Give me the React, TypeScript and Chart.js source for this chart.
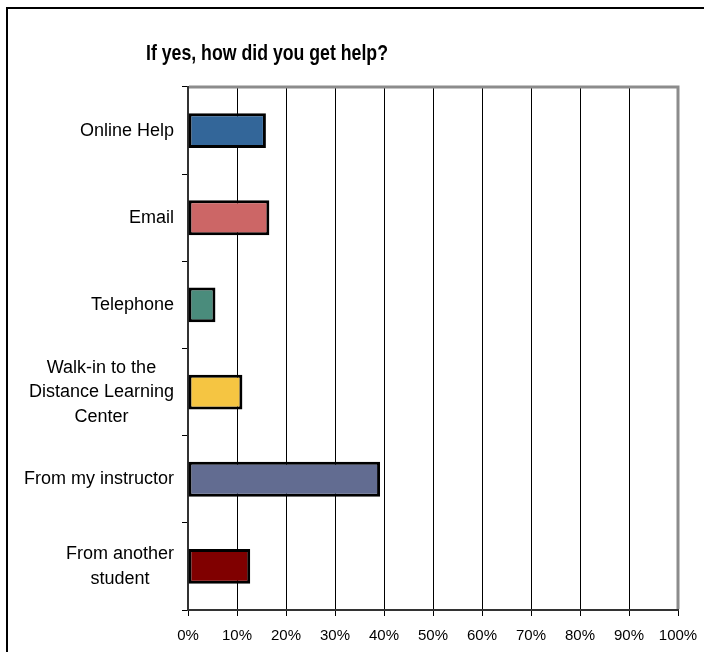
import { useEffect, useRef } from "react";
import { Chart, registerables } from "chart.js";

Chart.register(...registerables);

const TITLE = "If yes, how did you get help?";
const categories: string[][] = [
  ["Online Help"],
  ["Email"],
  ["Telephone"],
  ["Walk-in to the", "Distance Learning", "Center"],
  ["From my instructor"],
  ["From another", "student"],
];
const values: number[] = [15.9, 16.6, 5.6, 11.1, 39.2, 12.7];
const barColors: string[] = ["#336699", "#CC6666", "#4A8C7C", "#F5C542", "#626C91", "#800000"];
const xTickSuffix = "%";

const decor = {
  id: "decor",
  beforeDraw(chart: any) {
    const ctx = chart.ctx;
    ctx.save();
    ctx.fillStyle = "#ffffff";
    ctx.fillRect(0, 0, chart.width, chart.height);
    ctx.strokeStyle = "#000000";
    ctx.lineWidth = 2;
    ctx.strokeRect(7, 8, chart.width + 40, chart.height + 40);
    ctx.restore();
  },
  afterDraw(chart: any) {
    const { ctx, chartArea: a, scales } = chart;
    ctx.save();
    // plot-area border (top and right)
    ctx.strokeStyle = "#8c8c8c";
    ctx.lineWidth = 3;
    ctx.beginPath();
    ctx.moveTo(a.left + 1, a.top);
    ctx.lineTo(a.right, a.top);
    ctx.lineTo(a.right, a.bottom - 1);
    ctx.stroke();

    // category labels: block right-aligned, lines centered
    const ys = scales.y;
    ctx.font = '18px "Liberation Sans", Arial, sans-serif';
    ctx.fillStyle = "#000000";
    ctx.textBaseline = "middle";
    ctx.textAlign = "center";
    const lh = 24.5;
    categories.forEach((lines, i) => {
      const cy = ys.getPixelForValue(i);
      const bw = Math.max(...lines.map((l) => ctx.measureText(l).width));
      const cx = a.left - 14 - bw / 2;
      lines.forEach((l, j) => {
        ctx.fillText(l, cx, cy + (j - (lines.length - 1) / 2) * lh);
      });
    });

    // title
    ctx.font = 'bold 21.5px "Liberation Sans", Arial, sans-serif';
    ctx.textAlign = "left";
    ctx.textBaseline = "alphabetic";
    const w = ctx.measureText(TITLE).width;
    ctx.translate(146, 59.5);
    ctx.scale(242 / w, 1);
    ctx.fillText(TITLE, 0, 0);
    ctx.restore();
  },
};

export default function App() {
  const ref = useRef<HTMLCanvasElement | null>(null);
  useEffect(() => {
    document.body.style.margin = "0";
    const canvas = ref.current;
    if (!canvas) return;
    const chart = new Chart(canvas, {
      type: "bar",
      data: {
        labels: categories,
        datasets: [
          {
            data: values,
            backgroundColor: barColors,
            borderColor: "#000000",
            borderWidth: 3,
            borderSkipped: false,
            barPercentage: 0.4,
            categoryPercentage: 1,
          },
        ],
      },
      options: {
        indexAxis: "y",
        animation: false,
        responsive: false,
        devicePixelRatio: 1,
        layout: { padding: { top: 87, right: 26, bottom: 0, left: 0 } },
        plugins: {
          legend: { display: false },
          title: { display: false },
          tooltip: { enabled: false },
        },
        scales: {
          x: {
            type: "linear",
            min: 0,
            max: 100,
            afterFit: (s: any) => {
              s.height = 42;
              s.paddingLeft = 0;
              s.paddingRight = 0;
            },
            ticks: {
              stepSize: 10,
              color: "#000000",
              padding: 11,
              maxRotation: 0,
              font: { family: '"Liberation Sans", Arial, sans-serif', size: 15 },
              callback: (v: any) => v + xTickSuffix,
            },
            grid: { color: "#000000", lineWidth: 1, tickLength: 6, drawTicks: true },
            border: { color: "#333333", width: 2 },
          },
          y: {
            type: "category",
            afterFit: (s: any) => {
              s.width = 188;
              s.paddingTop = 0;
              s.paddingBottom = 0;
            },
            ticks: { display: false },
            grid: { offset: true, drawOnChartArea: false, drawTicks: true, tickLength: 6, color: "#000000" },
            border: { color: "#333333", width: 2 },
          },
        },
      },
      plugins: [decor],
    });
    return () => chart.destroy();
  }, []);
  return <canvas ref={ref} width={704} height={652} style={{ display: "block" }} />;
}
